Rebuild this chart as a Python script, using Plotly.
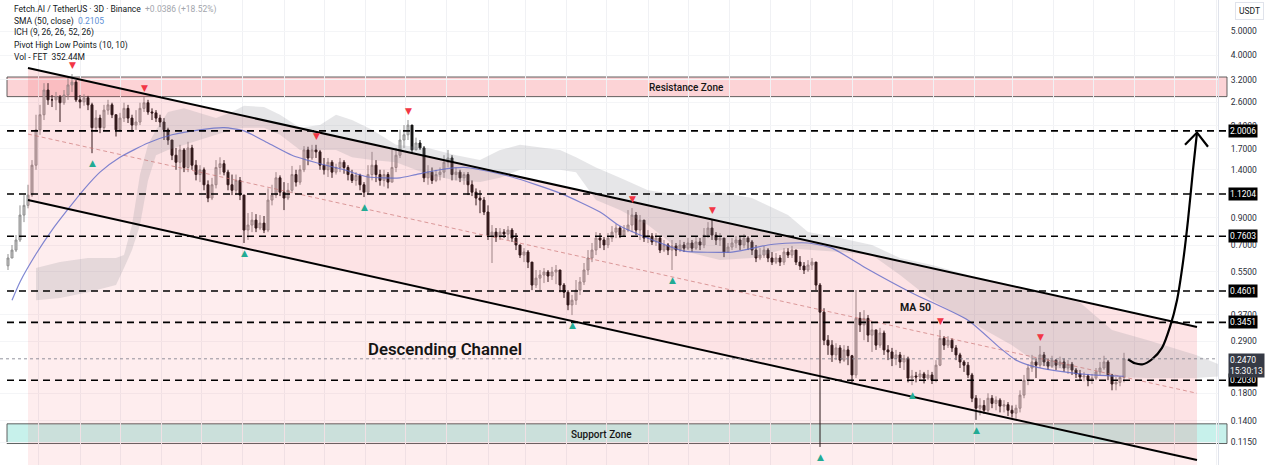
import math
import pandas as pd
import plotly.graph_objects as go

# ---------------- data ----------------
START = pd.Timestamp("2024-02-07")
BAR_DAYS = 3

first_open = 0.58
closes = [
    0.623, 0.670, 0.735, 0.924, 1.01, 1.11, 1.46, 2.02, 2.32, 2.91,
    2.66, 2.66, 2.73, 2.59, 2.78, 3.05, 3.13, 2.66, 2.61, 2.71,
    2.54, 2.06, 2.25, 2.06, 2.42, 2.54, 2.32, 2.02, 2.25, 2.46,
    2.25, 2.11, 2.17, 2.46, 2.59, 2.38, 2.36, 2.25, 2.17, 2.02,
    1.84, 1.60, 1.50, 1.68, 1.43, 1.71, 1.46, 1.34, 1.40, 1.22,
    1.08, 1.22, 1.43, 1.48, 1.37, 1.22, 1.16, 1.27, 1.11, 0.805,
    0.843, 0.882, 0.82, 0.858, 0.805, 1.06, 1.11, 1.30, 1.14, 1.08,
    1.16, 1.34, 1.25, 1.40, 1.68, 1.56, 1.68, 1.65, 1.46, 1.40,
    1.50, 1.37, 1.43, 1.50, 1.43, 1.34, 1.27, 1.33, 1.22, 1.14,
    1.34, 1.46, 1.34, 1.27, 1.34, 1.25, 1.43, 1.60, 1.84, 1.93,
    2.11, 1.68, 1.79, 1.71, 1.30, 1.37, 1.27, 1.34, 1.37, 1.50,
    1.56, 1.34, 1.37, 1.30, 1.34, 1.22, 1.14, 1.08, 1.06, 0.95,
    0.769, 0.79, 0.755, 0.79, 0.776, 0.805, 0.748, 0.702, 0.640, 0.658,
    0.60, 0.486, 0.518, 0.533, 0.548, 0.528, 0.548, 0.558, 0.486, 0.455,
    0.405, 0.423, 0.464, 0.50, 0.558, 0.623, 0.670, 0.748, 0.735, 0.702,
    0.748, 0.79, 0.82, 0.769, 0.805, 0.843, 0.924, 0.805, 0.882, 0.748,
    0.762, 0.722, 0.748, 0.670, 0.702, 0.670, 0.696, 0.670, 0.702, 0.682,
    0.715, 0.682, 0.722, 0.702, 0.769, 0.82, 0.769, 0.735, 0.748, 0.658,
    0.689, 0.715, 0.735, 0.702, 0.748, 0.722, 0.670, 0.623, 0.640, 0.670,
    0.623, 0.60, 0.623, 0.60, 0.658, 0.640, 0.670, 0.60, 0.579, 0.558,
    0.584, 0.60, 0.486, 0.379, 0.293, 0.280, 0.256, 0.273, 0.244, 0.268,
    0.254, 0.213, 0.358, 0.337, 0.358, 0.307, 0.322, 0.280, 0.313, 0.268,
    0.263, 0.248, 0.256, 0.240, 0.248, 0.207, 0.211, 0.209, 0.215, 0.207,
    0.213, 0.203, 0.233, 0.298, 0.280, 0.293, 0.273, 0.256, 0.240, 0.233,
    0.213, 0.172, 0.157, 0.161, 0.154, 0.172, 0.164, 0.169, 0.160, 0.162,
    0.154, 0.150, 0.157, 0.177, 0.203, 0.227, 0.240, 0.233, 0.256, 0.240,
    0.231, 0.244, 0.233, 0.240, 0.227, 0.235, 0.223, 0.215, 0.209, 0.211,
    0.203, 0.207, 0.219, 0.227, 0.240, 0.213, 0.196, 0.199, 0.2084, 0.247,
]
highs = [
    0.646, 0.702, 0.769, 1.01, 1.11, 1.22, 1.53, 2.32, 2.54, 3.10,
    3.10, 2.78, 2.86, 2.78, 2.91, 3.25, 3.37, 3.19, 2.78, 2.80,
    2.76, 2.59, 2.42, 2.32, 2.54, 2.66, 2.59, 2.32, 2.36, 2.59,
    2.54, 2.32, 2.42, 2.59, 2.73, 2.66, 2.46, 2.42, 2.32, 2.25,
    2.06, 1.84, 1.71, 1.76, 1.71, 1.81, 1.76, 1.53, 1.46, 1.43,
    1.27, 1.30, 1.53, 1.57, 1.53, 1.40, 1.34, 1.34, 1.31, 1.11,
    0.941, 0.95, 0.932, 0.924, 0.916, 1.18, 1.22, 1.37, 1.33, 1.25,
    1.24, 1.45, 1.40, 1.46, 1.74, 1.73, 1.76, 1.76, 1.68, 1.56,
    1.56, 1.53, 1.48, 1.56, 1.53, 1.46, 1.40, 1.37, 1.35, 1.25,
    1.46, 1.65, 1.53, 1.40, 1.40, 1.37, 1.68, 1.71, 2.02, 2.11,
    2.21, 2.11, 1.88, 1.84, 1.74, 1.46, 1.43, 1.40, 1.43, 1.60,
    1.68, 1.60, 1.43, 1.40, 1.37, 1.37, 1.27, 1.18, 1.16, 1.09,
    1.01, 0.843, 0.82, 0.82, 0.812, 0.835, 0.82, 0.783, 0.702, 0.682,
    0.670, 0.60, 0.558, 0.558, 0.568, 0.558, 0.574, 0.584, 0.558, 0.495,
    0.464, 0.444, 0.509, 0.523, 0.595, 0.670, 0.715, 0.79, 0.783, 0.755,
    0.783, 0.835, 0.85, 0.835, 0.843, 0.967, 0.985, 0.95, 0.924, 0.882,
    0.805, 0.783, 0.783, 0.755, 0.735, 0.715, 0.735, 0.715, 0.735, 0.722,
    0.748, 0.735, 0.755, 0.748, 0.82, 0.866, 0.89, 0.79, 0.783, 0.748,
    0.715, 0.748, 0.762, 0.755, 0.776, 0.762, 0.735, 0.702, 0.682, 0.696,
    0.682, 0.658, 0.652, 0.640, 0.682, 0.682, 0.696, 0.670, 0.634, 0.60,
    0.611, 0.623, 0.60, 0.495, 0.393, 0.307, 0.293, 0.285, 0.280, 0.280,
    0.278, 0.256, 0.464, 0.379, 0.386, 0.369, 0.346, 0.322, 0.328, 0.320,
    0.280, 0.273, 0.268, 0.263, 0.256, 0.252, 0.223, 0.219, 0.223, 0.219,
    0.223, 0.219, 0.244, 0.322, 0.304, 0.304, 0.298, 0.280, 0.261, 0.244,
    0.240, 0.217, 0.177, 0.172, 0.169, 0.180, 0.177, 0.175, 0.172, 0.169,
    0.166, 0.161, 0.162, 0.185, 0.213, 0.235, 0.256, 0.248, 0.278, 0.263,
    0.248, 0.254, 0.246, 0.252, 0.248, 0.244, 0.240, 0.227, 0.223, 0.219,
    0.215, 0.215, 0.227, 0.240, 0.254, 0.244, 0.215, 0.209, 0.211, 0.261,
]
lows = [
    0.558, 0.623, 0.658, 0.722, 0.866, 0.983, 1.09, 1.40, 1.93, 2.21,
    2.54, 2.49, 2.42, 2.17, 2.54, 2.66, 2.86, 2.61, 2.46, 2.52,
    2.42, 1.63, 1.98, 1.96, 2.02, 2.32, 2.25, 1.90, 1.98, 2.17,
    2.15, 1.98, 2.02, 2.11, 2.38, 2.32, 2.21, 2.17, 2.07, 1.84,
    1.76, 1.53, 1.40, 1.13, 1.37, 1.37, 1.40, 1.27, 1.25, 1.16,
    1.04, 1.06, 1.18, 1.34, 1.33, 1.16, 1.11, 1.11, 1.06, 0.715,
    0.735, 0.79, 0.79, 0.805, 0.783, 0.79, 1.01, 1.08, 1.10, 0.967,
    1.06, 1.13, 1.20, 1.22, 1.37, 1.46, 1.53, 1.56, 1.40, 1.34,
    1.31, 1.30, 1.34, 1.37, 1.35, 1.27, 1.24, 1.21, 1.16, 1.09,
    1.12, 1.27, 1.25, 1.21, 1.20, 1.18, 1.25, 1.37, 1.56, 1.71,
    1.84, 1.63, 1.68, 1.68, 1.25, 1.22, 1.23, 1.25, 1.27, 1.30,
    1.43, 1.27, 1.27, 1.25, 1.22, 1.11, 1.10, 1.01, 0.94, 0.924,
    0.735, 0.595, 0.722, 0.735, 0.748, 0.735, 0.722, 0.670, 0.623, 0.60,
    0.568, 0.464, 0.473, 0.464, 0.495, 0.50, 0.509, 0.49, 0.455, 0.432,
    0.386, 0.369, 0.405, 0.444, 0.486, 0.533, 0.60, 0.640, 0.682, 0.670,
    0.682, 0.722, 0.748, 0.748, 0.755, 0.79, 0.79, 0.769, 0.735, 0.722,
    0.715, 0.702, 0.696, 0.652, 0.658, 0.640, 0.558, 0.634, 0.658, 0.658,
    0.670, 0.658, 0.670, 0.670, 0.682, 0.748, 0.735, 0.702, 0.696, 0.628,
    0.658, 0.670, 0.682, 0.670, 0.682, 0.670, 0.640, 0.60, 0.611, 0.623,
    0.60, 0.584, 0.589, 0.579, 0.584, 0.623, 0.623, 0.584, 0.558, 0.538,
    0.548, 0.558, 0.464, 0.110, 0.280, 0.256, 0.240, 0.244, 0.237, 0.240,
    0.233, 0.199, 0.207, 0.316, 0.293, 0.288, 0.263, 0.268, 0.273, 0.256,
    0.244, 0.231, 0.233, 0.227, 0.223, 0.199, 0.194, 0.199, 0.203, 0.197,
    0.203, 0.196, 0.199, 0.231, 0.268, 0.273, 0.263, 0.244, 0.227, 0.219,
    0.207, 0.166, 0.141, 0.147, 0.149, 0.151, 0.157, 0.154, 0.151, 0.151,
    0.146, 0.144, 0.141, 0.151, 0.172, 0.194, 0.219, 0.207, 0.227, 0.231,
    0.223, 0.227, 0.223, 0.227, 0.219, 0.215, 0.213, 0.207, 0.203, 0.201,
    0.192, 0.196, 0.203, 0.213, 0.223, 0.203, 0.185, 0.185, 0.192, 0.199,
]

# SMA(50) readings (bar index, value)
sma_idx = [1, 3, 7, 11, 15, 19, 23, 28, 35, 41, 48, 54, 59, 65, 71, 78, 84, 90,
           98, 102, 108, 114, 118, 126, 138, 148, 153, 158, 165, 169, 181, 190,
           196, 200, 206, 214, 226, 240, 248, 252, 256, 264, 271, 279]
sma_val = [0.423, 0.50, 0.646, 0.805, 0.975, 1.17, 1.37, 1.57, 1.79, 1.93, 2.02,
           2.06, 2.00, 1.79, 1.60, 1.48, 1.40, 1.31, 1.30, 1.34, 1.40, 1.43, 1.40,
           1.31, 1.13, 0.95, 0.835, 0.769, 0.696, 0.664, 0.658, 0.702, 0.715,
           0.715, 0.682, 0.574, 0.452, 0.352, 0.273, 0.244, 0.231, 0.219, 0.213,
           0.2105]

# Ichimoku cloud readings (bar index, upper edge, lower edge)
cloud_idx = [7, 13, 20, 27, 29, 31, 33, 35, 37, 40, 44, 48, 52, 56, 59, 64, 68,
             73, 78, 82, 86, 91, 97, 105, 112, 118, 123, 128, 138, 142, 147, 153,
             160, 168, 178, 186, 195, 200, 208, 216, 223, 231, 240, 251, 258, 268,
             276, 285, 297, 305]
cloud_up = [0.568, 0.60, 0.623, 0.623, 0.640, 0.843, 1.34, 1.76, 2.02, 2.38, 2.46,
            2.36, 2.25, 2.38, 2.52, 2.49, 2.32, 2.06, 2.11, 2.32, 2.21, 2.02, 1.76,
            1.71, 1.60, 1.53, 1.68, 1.76, 1.68, 1.57, 1.43, 1.30, 1.16, 1.11, 1.14,
            1.08, 0.924, 0.79, 0.748, 0.702, 0.623, 0.584, 0.533, 0.486, 0.455,
            0.414, 0.322, 0.293, 0.256, 0.227]
cloud_dn = [0.423, 0.432, 0.455, 0.486, 0.568, 0.670, 0.843, 1.27, 1.60, 1.68,
            1.76, 1.84, 1.93, 2.02, 2.06, 2.06, 1.93, 1.68, 1.68, 1.68, 1.57, 1.53,
            1.50, 1.34, 1.27, 1.25, 1.30, 1.40, 1.40, 1.37, 1.06, 0.967, 0.843,
            0.670, 0.611, 0.623, 0.682, 0.670, 0.658, 0.640, 0.533, 0.423, 0.352,
            0.280, 0.233, 0.219, 0.209, 0.207, 0.207, 0.211]

pivot_high_idx = [16, 34, 77, 100, 156, 176, 233, 258]
pivot_low_idx = [21, 59, 89, 141, 166, 203, 226, 242]

# drawings
channel_idx = [5, 297.25]
channel_upper = [3.56, 0.331]
channel_lower = [1.061, 0.0975]
channel_mid = [1.943, 0.180]
key_levels = [2.0006, 1.1204, 0.7603, 0.4601, 0.3451, 0.2030]
resistance_zone = [2.74, 3.28]
support_zone = [0.1135, 0.136]
last_price = 0.2470
arrow_idx = [280, 281.75, 283.75, 286, 288.5, 290.5, 292.25, 293.75, 295, 296.25, 297.25]
arrow_val = [0.246, 0.237, 0.235, 0.246, 0.273, 0.331, 0.423, 0.60, 0.882, 1.40, 1.97]
arrow_head_idx = [294.25, 297.25, 300.0]
arrow_head_val = [1.76, 1.97, 1.73]

tick_vals = [5, 4, 3.2, 2.6, 2.1, 1.7, 1.4, 0.9, 0.7, 0.55, 0.37, 0.29,
             0.18, 0.14, 0.115]

# ---------------- helpers ----------------
W, H = 1280, 465
PLOT_W = 1218


def bar_date(i):
    return START + pd.Timedelta(days=BAR_DAYS * i)


def px(x):
    return x / PLOT_W


def py(y):
    return 1 - y / H


dates = [bar_date(i) for i in range(len(closes))]
opens = [first_open] + closes[:-1]

FONT = "Roboto, Arial, sans-serif"

fig = go.Figure()

# light pink below the channel
lo_d = [bar_date(i) for i in channel_idx]
fig.add_trace(go.Scatter(
    x=[lo_d[0], lo_d[1], lo_d[1], lo_d[0]],
    y=[channel_lower[0], channel_lower[1], 0.03, 0.03],
    fill="toself", fillcolor="rgba(242,54,69,0.09)", line=dict(width=0),
    mode="lines", hoverinfo="skip", showlegend=False))

# channel fill
fig.add_trace(go.Scatter(
    x=[lo_d[0], lo_d[1], lo_d[1], lo_d[0]],
    y=[channel_upper[0], channel_upper[1], channel_lower[1], channel_lower[0]],
    fill="toself", fillcolor="rgba(242,54,69,0.14)", line=dict(width=0),
    mode="lines", hoverinfo="skip", showlegend=False))

# ichimoku cloud
cd = [bar_date(i) for i in cloud_idx]
fig.add_trace(go.Scatter(
    x=cd + cd[::-1], y=cloud_up + cloud_dn[::-1],
    fill="toself", fillcolor="rgba(140,140,150,0.22)", line=dict(width=0),
    mode="lines", hoverinfo="skip", showlegend=False))

# channel midline
fig.add_trace(go.Scatter(
    x=lo_d, y=channel_mid, mode="lines",
    line=dict(color="rgba(200,110,110,0.65)", width=1, dash="4px,3px"),
    hoverinfo="skip", showlegend=False))

# SMA 50
fig.add_trace(go.Scatter(
    x=[bar_date(i) for i in sma_idx], y=sma_val, mode="lines",
    line=dict(color="rgba(95,105,200,0.8)", width=1.2, shape="spline", smoothing=0.6),
    hoverinfo="skip", showlegend=False))

# candles
fig.add_trace(go.Candlestick(
    x=dates, open=opens, high=highs, low=lows, close=closes,
    increasing=dict(line=dict(color="#8f8f8f", width=1), fillcolor="#c4c4c4"),
    decreasing=dict(line=dict(color="#141414", width=1), fillcolor="#141414"),
    whiskerwidth=0, showlegend=False, hoverinfo="skip"))

# channel lines
for vals in (channel_upper, channel_lower):
    fig.add_trace(go.Scatter(
        x=lo_d, y=vals, mode="lines", line=dict(color="#000000", width=2),
        hoverinfo="skip", showlegend=False))

# arrow
fig.add_trace(go.Scatter(
    x=[bar_date(i) for i in arrow_idx], y=arrow_val, mode="lines",
    line=dict(color="#000000", width=2.2, shape="spline", smoothing=0.8),
    hoverinfo="skip", showlegend=False))
fig.add_trace(go.Scatter(
    x=[bar_date(i) for i in arrow_head_idx], y=arrow_head_val, mode="lines",
    line=dict(color="#000000", width=2.2),
    hoverinfo="skip", showlegend=False))

shapes = []
# zones
shapes.append(dict(type="rect", xref="paper", yref="y", x0=px(7), x1=px(1227),
                   y0=resistance_zone[0], y1=resistance_zone[1],
                   fillcolor="rgba(242,54,69,0.22)",
                   line=dict(color="rgba(60,60,60,0.8)", width=1), layer="below"))
shapes.append(dict(type="rect", xref="paper", yref="y", x0=px(7), x1=px(1227),
                   y0=support_zone[0], y1=support_zone[1],
                   fillcolor="rgba(0,190,165,0.22)",
                   line=dict(color="rgba(60,60,60,0.8)", width=1), layer="below"))
# key level dashed lines
for lv in key_levels:
    shapes.append(dict(type="line", xref="paper", yref="y", x0=px(7), x1=px(1228),
                       y0=lv, y1=lv, line=dict(color="#000000", width=1.6, dash="7px,5px"),
                       layer="above"))
# current price dotted line
shapes.append(dict(type="line", xref="paper", yref="y", x0=0, x1=1,
                   y0=last_price, y1=last_price,
                   line=dict(color="rgba(120,123,134,0.8)", width=1, dash="dot"),
                   layer="above"))

annotations = []
# pivot markers
for i in pivot_high_idx:
    annotations.append(dict(x=bar_date(i), y=math.log10(highs[i]), xref="x", yref="y",
                            text="▼", showarrow=False, yshift=9,
                            font=dict(size=9, color="#f23645", family="DejaVu Sans")))
for i in pivot_low_idx:
    annotations.append(dict(x=bar_date(i), y=math.log10(lows[i]), xref="x", yref="y",
                            text="▲", showarrow=False, yshift=-10,
                            font=dict(size=9, color="#22ab94", family="DejaVu Sans")))

# level label boxes
for lv in key_levels:
    annotations.append(dict(x=px(1228), y=math.log10(lv), xref="paper", yref="y",
                            xanchor="left", yanchor="middle", text=f"{lv:.4f}",
                            showarrow=False, bgcolor="#000000", borderpad=1,
                            font=dict(size=8.5, color="#ffffff", family=FONT)))
annotations.append(dict(x=px(1228), y=math.log10(last_price), xref="paper", yref="y",
                        xanchor="left", yanchor="top", yshift=6,
                        text=f"{last_price:.4f}<br>15:30:13", showarrow=False,
                        bgcolor="#363a45", borderpad=1, align="left",
                        font=dict(size=8.5, color="#ffffff", family=FONT)))
annotations.append(dict(x=px(1249), y=py(11), xref="paper", yref="paper",
                        xanchor="center", yanchor="middle",
                        text="USDT", showarrow=False, bgcolor="#ffffff",
                        bordercolor="#e0e3eb", borderwidth=1, borderpad=3,
                        font=dict(size=8.5, color="#131722", family=FONT)))

# text labels
text_labels = [
    ("Resistance Zone", 686, 87, 10, 500),
    ("Support Zone", 601, 434, 10, 500),
    ("Descending Channel", 445, 349, 16.8, 600),
    ("MA 50", 915, 307, 10.5, 700),
]
for t, xx, yy, sz, wt in text_labels:
    annotations.append(dict(x=px(xx), y=py(yy), xref="paper", yref="paper",
                            xanchor="center", yanchor="middle",
                            text=t, showarrow=False,
                            font=dict(size=sz, color="#151515", family=FONT, weight=wt)))

# legend text
legend_lines = [
    "Fetch.AI / TetherUS · 3D · Binance  <span style='color:#a3a6ad'>+0.0386 (+18.52%)</span>",
    "SMA (50, close)  <span style='color:#5b8fd6'>0.2105</span>",
    "ICH (9, 26, 26, 52, 26)",
    "Pivot High Low Points (10, 10)",
    "Vol - FET  352.44M",
]
legend_y = [9, 21, 33, 45, 57]
for t, yy in zip(legend_lines, legend_y):
    annotations.append(dict(x=px(12), y=py(yy), xref="paper", yref="paper",
                            xanchor="left", yanchor="middle", text=t, showarrow=False,
                            font=dict(size=8.5, color="#131722", family=FONT)))

fig.update_layout(
    width=W, height=H,
    margin=dict(l=0, r=W - PLOT_W, t=0, b=0),
    paper_bgcolor="#ffffff", plot_bgcolor="#ffffff",
    showlegend=False,
    shapes=shapes, annotations=annotations,
    xaxis=dict(type="date", range=["2024-02-01", "2026-08-02 12:00"],
               rangeslider=dict(visible=False), showticklabels=False,
               showgrid=True, gridcolor="#f0f1f4", dtick="M1", tick0="2024-02-01",
               zeroline=False, showline=False, ticks=""),
    yaxis=dict(type="log", side="right",
               range=[math.log10(0.0932), math.log10(6.65)],
               tickvals=tick_vals, ticktext=[f"{v:.4f}" for v in tick_vals],
               tickfont=dict(size=8.5, color="#2a2e39", family=FONT),
               showgrid=True, gridcolor="#f4f5f7", zeroline=False,
               showline=True, linecolor="#e0e3eb", linewidth=1,
               ticks="outside", ticklen=10, tickcolor="rgba(0,0,0,0)"),
)

fig.write_html("out.html")
